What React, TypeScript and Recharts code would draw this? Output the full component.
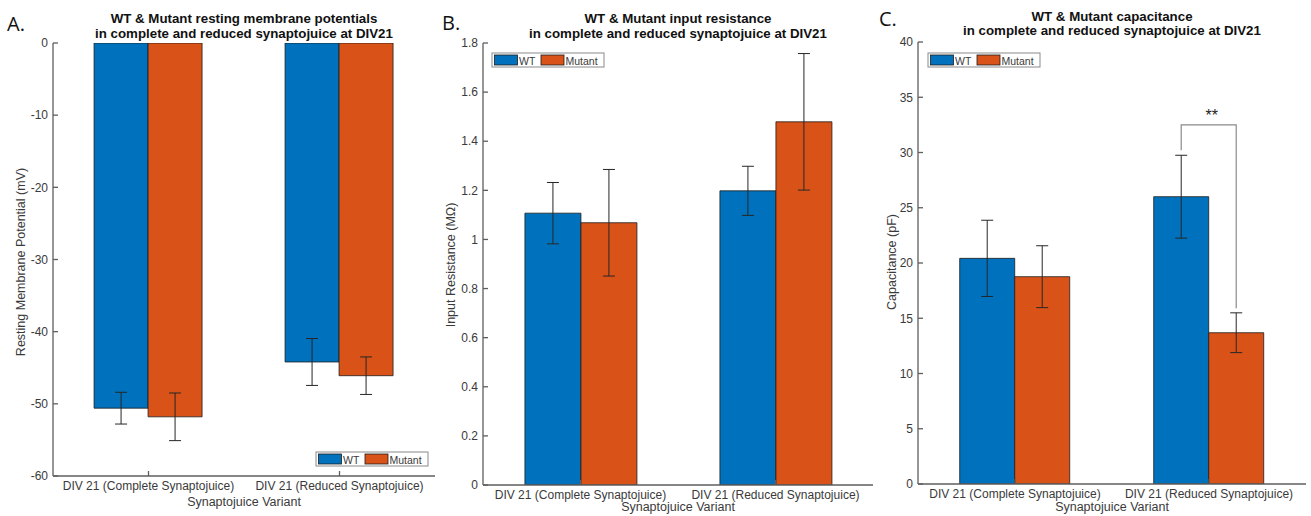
import React from "react";
import { BarChart, Bar, XAxis, YAxis, ErrorBar, LabelList } from "recharts";

// categories shared by all three panels
const variants = ["DIV 21 (Complete Synaptojuice)", "DIV 21 (Reduced Synaptojuice)"];

// A. resting membrane potential (mV)
const rmpWT = [-50.6, -44.2];
const rmpMutant = [-51.8, -46.1];
const rmpWTErr = [2.2, 3.25];
const rmpMutantErr = [3.3, 2.6];
const rmpTicks = [0, -10, -20, -30, -40, -50, -60];

// B. input resistance (MOhm)
const resWT = [1.107, 1.198];
const resMutant = [1.068, 1.479];
const resWTErr = [0.125, 0.1];
const resMutantErr = [0.217, 0.278];
const resTicks = [0, 0.2, 0.4, 0.6, 0.8, 1, 1.2, 1.4, 1.6, 1.8];

// C. capacitance (pF)
const capWT = [20.42, 26.0];
const capMutant = [18.76, 13.69];
const capWTErr = [3.45, 3.75];
const capMutantErr = [2.8, 1.8];
const capTicks = [0, 5, 10, 15, 20, 25, 30, 35, 40];

// significance bracket on the reduced group (C)
const sigIndex = 1;
const sigLevel = 32.5;
const sigWTStart = 30.2;
const sigMutantStart = 15.9;
const sigText = "**";

const WT_COLOR = "#0072BD";
const MUT_COLOR = "#D95319";
const AXIS = "#5e5e5e";
const TEXT = "#3a3a3a";
const FONT = "'Liberation Sans', Arial, Helvetica, sans-serif";

const build = (wt: number[], mut: number[], wtErr: number[], mutErr: number[]) =>
  variants.map((name, i) => ({
    name,
    wt: wt[i],
    mutant: mut[i],
    wtErr: wtErr[i],
    mutantErr: mutErr[i],
  }));

const rmpData = build(rmpWT, rmpMutant, rmpWTErr, rmpMutantErr);
const resData = build(resWT, resMutant, resWTErr, resMutantErr);
const capData = build(capWT, capMutant, capWTErr, capMutantErr);

const SigBracket = (props: any) => {
  const vb = props.viewBox ?? props;
  const { x, y, width, height } = vb;
  if (props.index !== sigIndex || !height) return null;
  const value = capMutant[sigIndex];
  const perUnit = height / value;
  const base = y + height;
  const yOf = (v: number) => base - v * perUnit;
  const xW = x - width / 2;
  const xM = x + width / 2;
  return (
    <g>
      <path
        d={`M${xW},${yOf(sigWTStart)} L${xW},${yOf(sigLevel)} L${xM},${yOf(sigLevel)} L${xM},${yOf(sigMutantStart)}`}
        stroke="#8a8a8a"
        strokeWidth={1.2}
        fill="none"
      />
      <text
        x={(xW + xM) / 2 + 3}
        y={yOf(sigLevel) - 9}
        textAnchor="middle"
        dominantBaseline="central"
        fontSize={16}
        fontFamily={FONT}
        fill="#222"
      >
        {sigText}
      </text>
    </g>
  );
};

interface PanelProps {
  data: any[];
  left: number;
  width: number;
  plotLeft: number;
  plotRight: number;
  plotTop: number;
  plotBottom: number;
  domain: [number, number];
  ticks: number[];
  withSig?: boolean;
}

function Panel({ data, left, width, plotLeft, plotRight, plotTop, plotBottom, domain, ticks, withSig }: PanelProps) {
  const H = 516;
  const xAxisH = 30;
  const tickStyle = { fontSize: 12, fill: TEXT, fontFamily: FONT };
  return (
    <div style={{ position: "absolute", left, top: 0, width, height: H }}>
      <BarChart
        width={width}
        height={H}
        data={data}
        margin={{ top: plotTop, right: width - plotRight, left: 0, bottom: H - plotBottom - xAxisH }}
        barCategoryGap="21.5%"
        barGap={0}
      >
        <XAxis
          dataKey="name"
          height={xAxisH}
          interval={0}
          tickSize={-5}
          tickMargin={10}
          tick={tickStyle}
          stroke={AXIS}
          strokeWidth={1.3}
        />
        <XAxis
          xAxisId="top"
          dataKey="name"
          orientation="top"
          height={0}
          tickSize={-5}
          tick={false}
          stroke={AXIS}
          strokeWidth={1.3}
        />
        <YAxis
          width={plotLeft}
          domain={domain}
          ticks={ticks}
          type="number"
          allowDataOverflow
          tickSize={-5}
          tickMargin={10}
          tick={tickStyle}
          stroke={AXIS}
          strokeWidth={1.3}
        />
        <YAxis
          yAxisId="right"
          orientation="right"
          width={0}
          domain={domain}
          ticks={ticks}
          type="number"
          tickSize={-5}
          tick={false}
          stroke={AXIS}
          strokeWidth={1.3}
        />
        <Bar dataKey="wt" fill={WT_COLOR} stroke="#1c1c1c" strokeWidth={0.8} isAnimationActive={false}>
          <ErrorBar dataKey="wtErr" width={6} stroke="#262626" strokeWidth={1} direction="y" />
        </Bar>
        <Bar dataKey="mutant" fill={MUT_COLOR} stroke="#1c1c1c" strokeWidth={0.8} isAnimationActive={false}>
          <ErrorBar dataKey="mutantErr" width={6} stroke="#262626" strokeWidth={1} direction="y" />
          {withSig && <LabelList dataKey="mutant" content={SigBracket} />}
        </Bar>
      </BarChart>
    </div>
  );
}

const Legend = ({ x, y }: { x: number; y: number }) => (
  <g>
    <rect x={x} y={y} width={112} height={14} fill="#fff" stroke="#8a8a8a" strokeWidth={1} />
    <rect x={x + 2.5} y={y + 2} width={23} height={10} fill={WT_COLOR} stroke="#1c1c1c" strokeWidth={0.8} />
    <text x={x + 27} y={y + 7.5} fontSize={10.5} fill={TEXT} fontFamily={FONT} dominantBaseline="central">
      WT
    </text>
    <rect x={x + 49} y={y + 2} width={23} height={10} fill={MUT_COLOR} stroke="#1c1c1c" strokeWidth={0.8} />
    <text x={x + 73.5} y={y + 7.5} fontSize={10.5} fill={TEXT} fontFamily={FONT} dominantBaseline="central">
      Mutant
    </text>
  </g>
);

export default function App() {
  const titleStyle = { fontSize: 13.3, fontWeight: 700, fontFamily: FONT, fill: "#111" } as const;
  const labelStyle = { fontSize: 12.5, fontFamily: FONT, fill: TEXT } as const;
  const letterStyle = { fontSize: 20, fontFamily: "'Open Sans', 'Liberation Sans', sans-serif", fill: "#111" } as const;
  return (
    <div style={{ position: "absolute", left: 0, top: 0, width: 1311, height: 516, background: "#fff", overflow: "hidden" }}>
      <Panel data={rmpData} left={0} width={440} plotLeft={53} plotRight={435} plotTop={43} plotBottom={476} domain={[-60, 0]} ticks={rmpTicks} />
      <Panel data={resData} left={440} width={440} plotLeft={43} plotRight={433} plotTop={43} plotBottom={485} domain={[0, 1.8]} ticks={resTicks} />
      <Panel data={capData} left={880} width={431} plotLeft={38} plotRight={426} plotTop={42} plotBottom={484} domain={[0, 40]} ticks={capTicks} withSig />
      <svg width={1311} height={516} style={{ position: "absolute", left: 0, top: 0, pointerEvents: "none" }}>
        <text x={7} y={31} {...letterStyle}>A.</text>
        <text x={442} y={30} {...letterStyle}>B.</text>
        <text x={879} y={26} {...letterStyle}>C.</text>

        <text x={244} y={18} textAnchor="middle" dominantBaseline="central" {...titleStyle}>WT &amp; Mutant resting membrane potentials</text>
        <text x={244} y={33} textAnchor="middle" dominantBaseline="central" {...titleStyle}>in complete and reduced synaptojuice at DIV21</text>
        <text x={678} y={18} textAnchor="middle" dominantBaseline="central" {...titleStyle}>WT &amp; Mutant input resistance</text>
        <text x={678} y={33} textAnchor="middle" dominantBaseline="central" {...titleStyle}>in complete and reduced synaptojuice at DIV21</text>
        <text x={1112} y={16} textAnchor="middle" dominantBaseline="central" {...titleStyle}>WT &amp; Mutant capacitance</text>
        <text x={1112} y={30} textAnchor="middle" dominantBaseline="central" {...titleStyle}>in complete and reduced synaptojuice at DIV21</text>

        <text transform="translate(21,262) rotate(-90)" textAnchor="middle" dominantBaseline="central" {...labelStyle}>Resting Membrane Potential (mV)</text>
        <text transform="translate(451,265) rotate(-90)" textAnchor="middle" dominantBaseline="central" {...labelStyle}>Input Resistance (MΩ)</text>
        <text transform="translate(892,262) rotate(-90)" textAnchor="middle" dominantBaseline="central" {...labelStyle}>Capacitance (pF)</text>

        <text x={244} y={502} textAnchor="middle" dominantBaseline="central" {...labelStyle}>Synaptojuice Variant</text>
        <text x={678} y={507} textAnchor="middle" dominantBaseline="central" {...labelStyle}>Synaptojuice Variant</text>
        <text x={1112} y={507} textAnchor="middle" dominantBaseline="central" {...labelStyle}>Synaptojuice Variant</text>

        <Legend x={316} y={452} />
        <Legend x={492} y={53} />
        <Legend x={928} y={53} />
      </svg>
    </div>
  );
}
